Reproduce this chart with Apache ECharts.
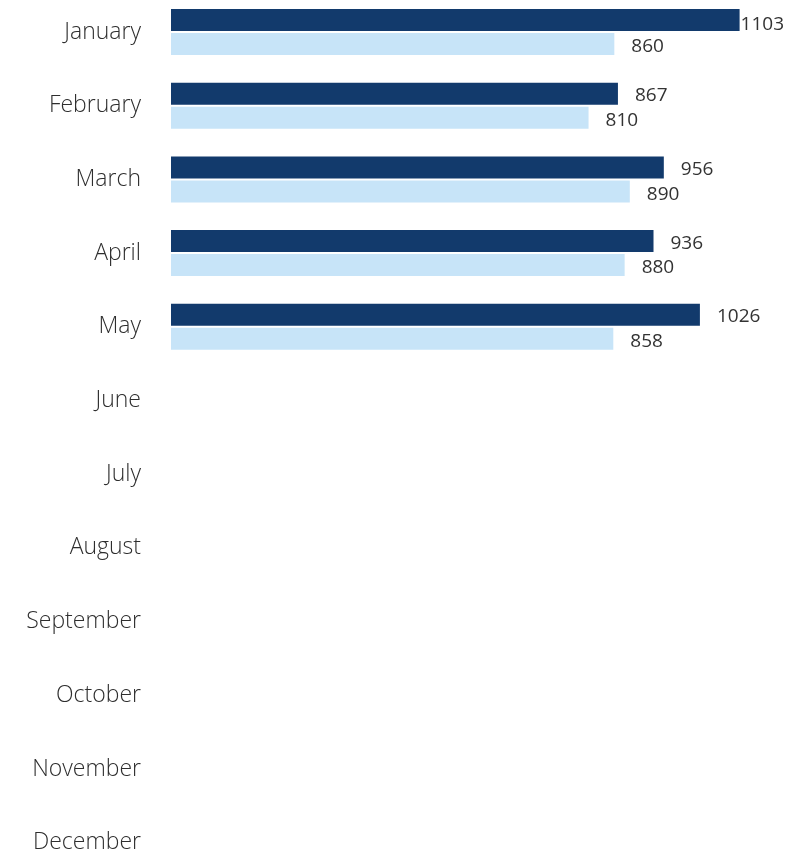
<!DOCTYPE html>
<html>
<head>
<meta charset="utf-8">
<script src="https://cdn.jsdelivr.net/npm/echarts@6/dist/echarts.min.js"></script>
<style>
html,body{margin:0;padding:0;background:#fff;}
#chart{width:808px;height:857px;}
</style>
</head>
<body>
<div id="chart"></div>
<script>
const months = ['January','February','March','April','May','June','July','August','September','October','November','December'];
const seriesA = [1103, 867, 956, 936, 1026, null, null, null, null, null, null, null];
const seriesB = [860, 810, 890, 880, 858, null, null, null, null, null, null, null];

const chart = echarts.init(document.getElementById('chart'), null, {renderer: 'canvas'});

const labelBase = {
  show: true,
  position: 'right',
  distance: 17,
  offset: [0, 2],
  color: '#333',
  fontFamily: 'Open Sans',
  fontSize: 19
};

const darkData = seriesA.map((v, i) => i === 0
  ? {value: v, label: {distance: 1, offset: [0, 5]}}
  : v);

chart.setOption({
  animation: false,
  grid: {left: 171, right: 18.4, top: -4.86, height: 884.4, containLabel: false, outerBoundsMode: 'none'},
  xAxis: {
    type: 'value', min: 0, max: 1200, show: false
  },
  yAxis: {
    type: 'category', data: months, inverse: true,
    axisLine: {show: false}, axisTick: {show: false}, splitLine: {show: false},
    axisLabel: {margin: 30, color: '#2e2e2e', fontFamily: 'Open Sans', fontSize: 23, fontWeight: 300, padding: [4, 0, 0, 0]}
  },
  series: [
    {
      type: 'bar', data: darkData, barWidth: 22, barGap: '9%',
      itemStyle: {color: '#123a6c'},
      label: labelBase
    },
    {
      type: 'bar', data: seriesB, barWidth: 22, barGap: '9%',
      itemStyle: {color: '#c7e4f8'},
      label: Object.assign({}, labelBase, {offset: [0, 3]})
    }
  ]
});
</script>
</body>
</html>
